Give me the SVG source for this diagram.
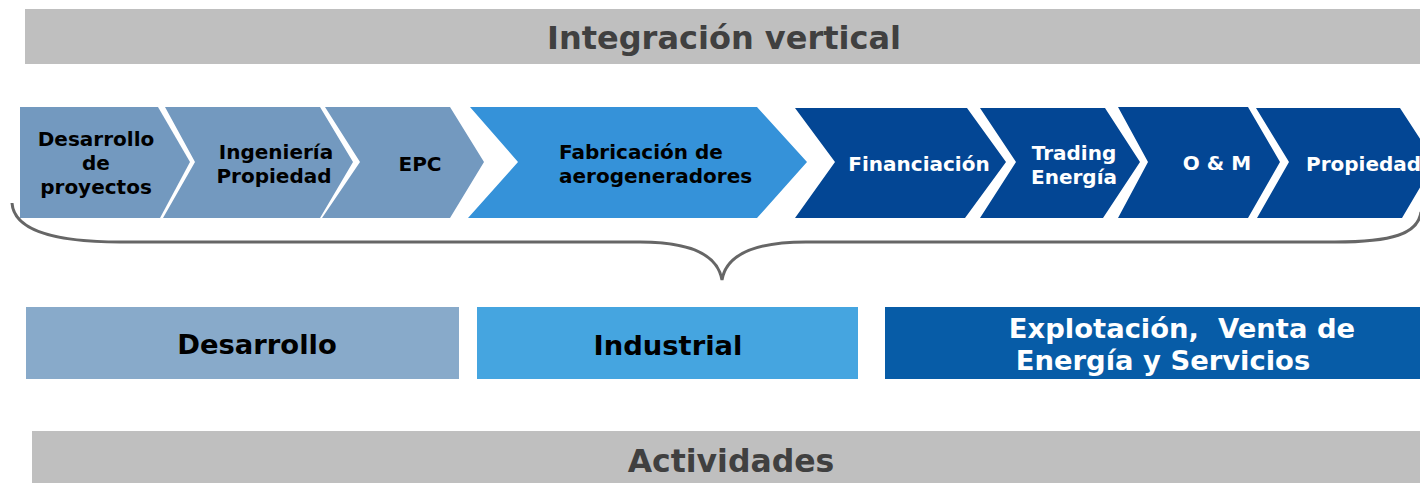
<svg xmlns="http://www.w3.org/2000/svg" width="1420" height="483" viewBox="0 0 1420 483">
<style>
.bar{fill:#bfbfbf}
.bt{font-family:"DejaVu Sans",Verdana,sans-serif;font-weight:bold;font-size:32px;fill:#404040;text-anchor:middle}
.cl{font-family:"DejaVu Sans",Verdana,sans-serif;font-weight:bold;font-size:20px;text-anchor:middle}
.bl{font-family:"DejaVu Sans",Verdana,sans-serif;font-weight:bold;font-size:27.4px;text-anchor:middle}
.c1{fill:#7399bf}
.c2{fill:#3592d9}
.c3{fill:#034694}
.dk{fill:#000}
.wh{fill:#fff}
.brace{fill:none;stroke:#666;stroke-width:3}
</style>
<rect width="1420" height="483" fill="#fff"/>
<g id="title">
<rect class="bar" x="25" y="9" width="1395" height="55"/>
<text class="bt" x="724" y="49">Integración vertical</text>
</g>
<g id="connectors">
<path class="brace" d="M12,203 C14,232 60,242 120,242 L640,242 C692,242 718,256 722,280 C726,256 752,242 806,242 L1335,242 C1392,242 1418,234 1421,212"/>
</g>
<g id="n1">
<path class="c1" d="M20,107 L158,107 L190,162 L160,218 L20,218 Z"/>
<text class="cl dk" x="96" y="146">Desarrollo</text>
<text class="cl dk" x="96" y="170">de</text>
<text class="cl dk" x="96" y="194">proyectos</text>
</g>
<g id="n2">
<path class="c1" d="M165,107 L320,107 L353,162 L320,218 L163,218 L195,162 Z"/>
<text class="cl dk" x="276" y="159">Ingeniería</text>
<text class="cl dk" x="274" y="183">Propiedad</text>
</g>
<g id="n3">
<path class="c1" d="M325,107 L450,107 L484,162 L450,218 L322,218 L360,162 Z"/>
<text class="cl dk" x="420" y="171">EPC</text>
</g>
<g id="n4">
<path class="c2" d="M470,107 L757,107 L807,162 L757,218 L468,218 L518,162 Z"/>
<text class="cl dk" x="559" y="159" style="text-anchor:start">Fabricación de</text>
<text class="cl dk" x="559" y="183" style="text-anchor:start">aerogeneradores</text>
</g>
<g id="n5">
<path class="c3" d="M795,108 L967,108 L1006,162 L965,218 L795,218 L835,162 Z"/>
<text class="cl wh" x="919" y="171">Financiación</text>
</g>
<g id="n6">
<path class="c3" d="M980,108 L1105,108 L1140,162 L1103,218 L980,218 L1016,162 Z"/>
<text class="cl wh" x="1074" y="160">Trading</text>
<text class="cl wh" x="1074" y="184">Energía</text>
</g>
<g id="n7">
<path class="c3" d="M1118,107 L1248,107 L1280,162 L1248,218 L1118,218 L1148,162 Z"/>
<text class="cl wh" x="1217" y="170">O &amp; M</text>
</g>
<g id="n8">
<path class="c3" d="M1256,108 L1400,108 L1435,162 L1402,218 L1257,218 L1289,162 Z"/>
<text class="cl wh" x="1306" y="171" style="text-anchor:start">Propiedad</text>
</g>
<g id="b1">
<rect x="26" y="307" width="433" height="72" fill="#88aaca"/>
<text class="bl dk" x="257" y="354">Desarrollo</text>
</g>
<g id="b2">
<rect x="477" y="307" width="381" height="72" fill="#45a5e0"/>
<text class="bl dk" x="668" y="355">Industrial</text>
</g>
<g id="b3">
<rect x="885" y="307" width="535" height="72" fill="#075ca7"/>
<text class="bl wh" x="1182" y="338" xml:space="preserve">Explotación,  Venta de</text>
<text class="bl wh" x="1163" y="370">Energía y Servicios</text>
</g>
<g id="footer">
<rect class="bar" x="32" y="431" width="1388" height="52"/>
<text class="bt" x="731" y="472" style="font-size:31.5px">Actividades</text>
</g>
</svg>
